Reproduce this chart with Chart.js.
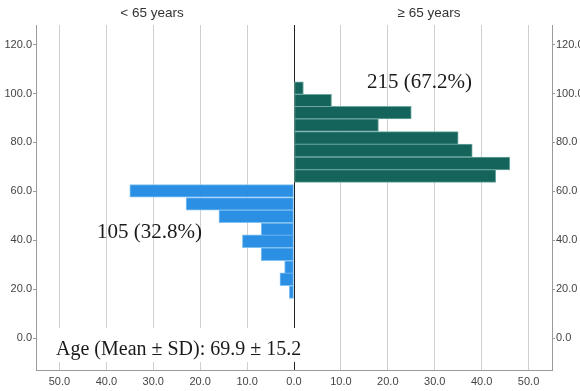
<!DOCTYPE html>
<html>
<head>
<meta charset="utf-8">
<script src="https://cdn.jsdelivr.net/npm/chart.js@4/dist/chart.umd.min.js"></script>
<style>
  html, body { margin: 0; padding: 0; background: #fff; }
  #wrap { width: 580px; height: 391px; }
</style>
</head>
<body>
<div id="wrap"><canvas id="pyramid"></canvas></div>
<script>
// 年龄分组（柱中心）与人数
const youngAges = [60.2, 54.9, 49.8, 44.5, 39.6, 34.3, 29.0, 24.1, 18.8];
const youngCounts = [35, 23, 16, 7, 11, 7, 2, 3, 1];
const oldAges = [102.2, 97.1, 92.2, 87.1, 81.8, 76.7, 71.4, 66.3];
const oldCounts = [2, 8, 25, 18, 35, 38, 46, 43];

// 刻度
const xTicks = [-50, -40, -30, -20, -10, 0, 10, 20, 30, 40, 50];
const yTicks = [0, 20, 40, 60, 80, 100, 120];

const groupLabels = ['< 65 years', '\u2265 65 years'];
const youngNote = '105 (32.8%)';
const oldNote = '215 (67.2%)';
const ageNote = 'Age (Mean \u00b1 SD): 69.9 \u00b1 15.2';

const sansFont = "'Liberation Sans', Arial, sans-serif";
const serifFont = "'Liberation Serif', 'Times New Roman', serif";

// 文字标注插件
const notesPlugin = {
    id: 'notes',
    afterDatasetsDraw(chart) {
        const ctx = chart.ctx;
        const area = chart.chartArea;
        ctx.save();

        // 底部说明的白色背景
        ctx.fillStyle = '#ffffff';
        ctx.fillRect(area.left + 9, 328, 271, 34);

        ctx.fillStyle = '#1a1a1a';
        ctx.textBaseline = 'alphabetic';
        ctx.textAlign = 'left';
        ctx.font = '21px ' + serifFont;
        ctx.fillText(oldNote, 367, 88);
        ctx.fillText(youngNote, 97, 238);
        ctx.font = '20px ' + serifFont;
        ctx.fillText(ageNote, 56, 355);

        // 两侧标题
        ctx.fillStyle = '#333';
        ctx.font = '13.5px ' + sansFont;
        ctx.textAlign = 'center';
        ctx.textBaseline = 'middle';
        ctx.fillText(groupLabels[0], 152, 13);
        ctx.fillText(groupLabels[1], 429, 13);
        ctx.restore();
    }
};

function yAxis(position, width) {
    return {
        type: 'linear',
        position: position,
        min: -13,
        max: 128,
        offset: false,
        afterBuildTicks: s => { s.ticks = yTicks.map(v => ({ value: v })); },
        afterFit: s => { s.width = width; },
        grid: {
            offset: false,
            drawOnChartArea: false,
            drawTicks: true,
            tickLength: 3,
            color: '#999'
        },
        border: { display: true, color: '#9a9a9a' },
        ticks: {
            padding: 1,
            autoSkip: false,
            color: '#444',
            font: { family: sansFont, size: 11 },
            callback: v => Number(v).toFixed(1)
        }
    };
}

function initPyramid() {
    const canvas = document.getElementById('pyramid');
    if (typeof Chart === 'undefined' || !canvas) {
        console.error('Chart.js 未加载');
        return;
    }

    new Chart(canvas, {
        type: 'bar',
        data: {
            datasets: [{
                label: groupLabels[0],
                data: youngAges.map((a, i) => ({ x: -youngCounts[i], y: a })),
                backgroundColor: '#2b8fe4',
                borderColor: '#7fc1f3',
                borderWidth: 1,
                borderSkipped: false,
                barThickness: 12.7,
                grouped: false
            }, {
                label: groupLabels[1],
                data: oldAges.map((a, i) => ({ x: oldCounts[i], y: a })),
                backgroundColor: '#15645c',
                borderColor: '#6ea7a0',
                borderWidth: 1,
                borderSkipped: false,
                barThickness: 12.7,
                grouped: false
            }]
        },
        options: {
            indexAxis: 'y',
            responsive: true,
            maintainAspectRatio: false,
            animation: false,
            layout: { padding: { top: 25, left: 0, right: 0, bottom: 0 } },
            plugins: {
                legend: { display: false },
                tooltip: { enabled: false }
            },
            scales: {
                x: {
                    type: 'linear',
                    min: -55,
                    max: 55,
                    afterBuildTicks: s => { s.ticks = xTicks.map(v => ({ value: v })); },
                    afterFit: s => { s.height = 21; },
                    grid: {
                        color: ctx => (ctx.tick && ctx.tick.value === 0) ? '#222' : '#cfcfcf',
                        lineWidth: 1,
                        drawTicks: false
                    },
                    border: { display: true, color: '#9a9a9a' },
                    ticks: {
                        padding: 5,
                        autoSkip: false,
                        color: '#444',
                        font: { family: sansFont, size: 11 },
                        callback: v => Math.abs(v).toFixed(1)
                    }
                },
                y: yAxis('left', 36),
                y2: yAxis('right', 28)
            }
        },
        plugins: [notesPlugin]
    });
}

document.addEventListener('DOMContentLoaded', initPyramid);
</script>
</body>
</html>
